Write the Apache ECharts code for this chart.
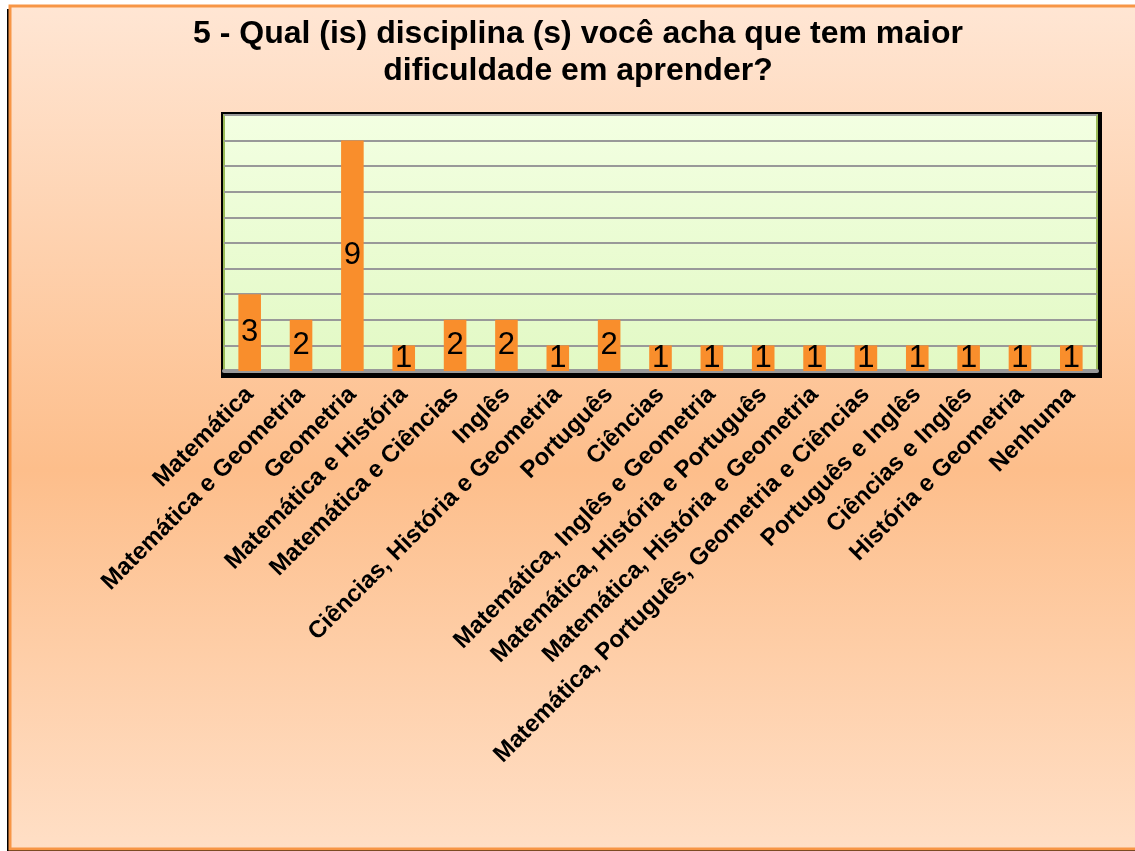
<!DOCTYPE html>
<html><head><meta charset="utf-8">
<script src="https://cdn.jsdelivr.net/npm/echarts@6/dist/echarts.min.js"></script>
<style>html,body{margin:0;padding:0;background:#fff}#c{width:1135px;height:851px}</style>
</head><body><div id="c"></div>
<script>
const titleLines = ['5 - Qual (is) disciplina (s) você acha que tem maior', 'dificuldade em aprender?'];
const categories = ['Matemática','Matemática e Geometria','Geometria','Matemática e História','Matemática e Ciências','Inglês','Ciências, História e Geometria','Português','Ciências','Matemática, Inglês e Geometria','Matemática, História e Português','Matemática, História e Geometria','Matemática, Português, Geometria e Ciências','Português e Inglês','Ciências e Inglês','História e Geometria','Nenhuma'];
const values = [3,2,9,1,2,2,1,2,1,1,1,1,1,1,1,1,1];
const yMin = 0, yMax = 10, yStep = 1;

const chart = echarts.init(document.getElementById('c'), null, {renderer:'canvas'});
const F = 'Liberation Sans, Arial, sans-serif';
chart.setOption({
  animation:false,
  backgroundColor:'#ffffff',
  graphic:[
    {type:'rect', z:-20, shape:{x:7,y:9,width:1135,height:843}, style:{fill:'#000'}},
    {type:'rect', z:-19, shape:{x:10,y:6,width:1135,height:843},
     style:{fill:{type:'linear',x:0,y:0,x2:0,y2:1,colorStops:[
       {offset:0,color:'#FFE6D4'},{offset:0.55,color:'#FDBE8B'},{offset:1,color:'#FFDFC6'}]},
       stroke:'#F79646', lineWidth:3}},
    {type:'rect', z:-18, shape:{x:221,y:112,width:881,height:266}, style:{fill:'#000'}},
    {type:'text', x:578, y:16, z:10,
     style:{text:titleLines.join('\n'), font:'bold 32px '+F, fill:'#000', align:'center', verticalAlign:'top', lineHeight:37}}
  ],
  grid:{left:224,right:38,top:115,bottom:480,show:true,
    backgroundColor:{type:'linear',x:0,y:0,x2:0,y2:1,colorStops:[{offset:0,color:'#F3FFE2'},{offset:1,color:'#E2F9C4'}]},
    borderColor:'#9BBB59',borderWidth:2},
  xAxis:{type:'category',data:categories,
    axisLine:{show:true,lineStyle:{color:'#999',width:4}},
    axisTick:{show:false},
    axisLabel:{interval:0,rotate:45,margin:20,color:'#000',fontFamily:F,fontWeight:'bold',fontSize:24}},
  yAxis:{type:'value',min:yMin,max:yMax,interval:yStep,
    axisLine:{show:false},axisTick:{show:false},axisLabel:{show:false},
    splitLine:{show:true,lineStyle:{color:'#999',width:2}}},
  series:[{type:'bar',data:values,barWidth:'44%',
    itemStyle:{color:'#F98E2C'},
    label:{show:true,position:'inside',color:'#000',fontFamily:F,fontSize:31,fontWeight:'normal'}}]
});
</script></body></html>
